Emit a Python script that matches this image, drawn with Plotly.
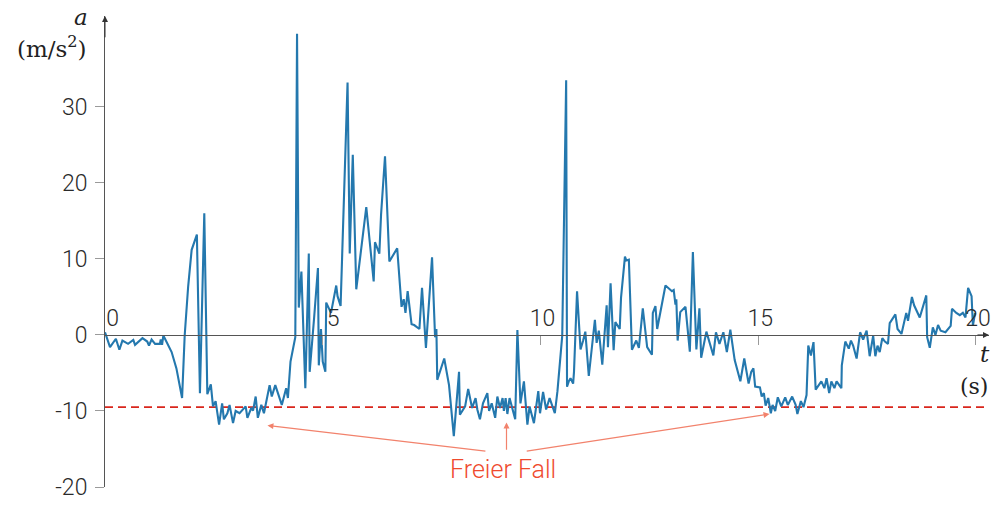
import plotly.graph_objects as go

# ---- data ----
time_s = [
    0, 0.115, 0.25, 0.33, 0.4, 0.53, 0.65, 0.69, 0.86, 0.97, 1.01, 1.07, 1.15, 1.26, 1.28, 1.31, 1.34, 1.41,
    1.53, 1.64, 1.77, 1.83, 1.91, 1.99, 2.06, 2.11, 2.18, 2.28, 2.35, 2.43, 2.48, 2.54, 2.62, 2.69, 2.73,
    2.81, 2.86, 2.94, 3.0, 3.09, 3.23, 3.27, 3.36, 3.4, 3.46, 3.51,
    3.59, 3.65, 3.78, 3.83, 3.91, 4.06, 4.16, 4.2, 4.26, 4.37, 4.41, 4.45, 4.51, 4.6, 4.68, 4.7, 4.8, 4.89,
    4.91, 4.96, 5.0, 5.06, 5.08, 5.19, 5.31, 5.34, 5.41, 5.48, 5.57, 5.62, 5.69, 5.77, 6.0, 6.17, 6.2, 6.3,
    6.34, 6.43, 6.53, 6.71, 6.81, 6.86, 6.9, 6.95, 7.04, 7.1,
    7.22, 7.28, 7.37, 7.51, 7.58, 7.61, 7.63, 7.79, 7.9, 8.01, 8.13, 8.15, 8.27, 8.34, 8.43, 8.51, 8.55,
    8.61, 8.68, 8.78, 8.82, 8.88, 8.96, 9.01, 9.07, 9.13, 9.16, 9.2, 9.24, 9.29, 9.35, 9.42, 9.47, 9.54,
    9.62, 9.7, 9.75, 9.85, 9.95, 9.99, 10.06, 10.13, 10.21, 10.27, 10.33, 10.39, 10.5, 10.59, 10.61, 10.65,
    10.69, 10.75, 10.77, 10.84, 10.92, 10.98, 11.03, 11.11, 11.25, 11.29, 11.34, 11.42, 11.52, 11.55, 11.61,
    11.68, 11.72, 11.82, 11.85, 11.94, 11.97, 12.03, 12.1, 12.2, 12.26, 12.35, 12.45, 12.56, 12.58, 12.64,
    12.68, 12.87, 13.02, 13.06, 13.1, 13.12, 13.15, 13.21, 13.33, 13.43, 13.5, 13.58, 13.65, 13.69, 13.81,
    13.97, 14.03, 14.11,
    14.2, 14.28, 14.36, 14.46, 14.59, 14.68, 14.78, 14.84, 14.89, 14.93, 15.04, 15.08, 15.13, 15.17, 15.23,
    15.29, 15.33, 15.39, 15.45, 15.53, 15.62, 15.68, 15.78, 15.86, 15.9, 15.98, 16.04, 16.11, 16.15, 16.21,
    16.27, 16.32, 16.38, 16.45, 16.52, 16.57, 16.63, 16.68, 16.75, 16.8, 16.91, 16.92, 17.0, 17.08, 17.13,
    17.18, 17.26, 17.34,
    17.41, 17.49, 17.56, 17.64, 17.69, 17.74, 17.79, 17.85, 17.91, 17.98, 18.02, 18.15, 18.2, 18.29, 18.4,
    18.44, 18.53, 18.58, 18.71, 18.86, 18.88, 18.94, 19.01, 19.07, 19.13, 19.19, 19.3, 19.42, 19.45, 19.55,
    19.63, 19.7, 19.76, 19.82, 19.9, 19.93, 19.98,
]
accel = [
    0.35, -1.6, -0.5, -1.95, -0.74, -1.17, -0.65, -1.3, -0.43, -0.87, -1.39, -0.6, -1.17, -1.17, -0.6, -1.3, -0.08, -0.95,
    -2.25, -4.4, -8.3, -0.08, 6.4, 11.2, 12.5, 13.2, -7.66, 16.0, -7.8, -6.5, -9.4, -8.7, -11.8, -9.0, -11.1,
    -10.3, -9.2, -11.6, -10.0, -10.3, -9.4, -10.9, -9.6, -9.96, -8.1, -10.9,
    -9.2, -10.3, -6.6, -8.1, -6.6, -9.2, -7.0, -8.3, -3.5, -0.3, 39.6, 3.6, 8.35, -7.0, 10.7, -4.85, 2.1, 8.8,
    -4.0, 0.78, -3.5, -4.85, 4.25, 2.9, 6.5, 5.1, 3.8, 16.8, 33.2, 10.7, 23.7, 6.0, 16.8, 7.05, 12.2, 10.7,
    15.9, 23.5, 9.65, 11.4, 3.7, 4.7, 2.9, 5.75, 1.4, 1.3,
    0.78, 6.2, -1.7, 10.2, -0.3, 0.78, -5.9, -3.1, -6.6, -13.3, -4.85, -10.5, -9.4, -7.1, -9.6, -8.3, -9.8,
    -11.1, -9.0, -7.66, -10.0, -9.0, -10.9, -8.1, -9.6, -8.3, -10.0, -8.3, -10.4, -8.3, -9.6, -11.1, 0.65, -9.0,
    -6.1, -11.8, -9.4, -11.6, -7.4, -10.3, -7.5, -9.8, -8.3, -9.2, -10.3, -7.4, -0.1, 33.5, -6.8, -6.1,
    -5.7, -6.4, -4.85, 5.75, -1.9, -0.74, 0.43, -5.4, 2.0, -1.04, 0.56, -3.9, 3.9, -1.6, 6.8,
    -2.0, 1.7, 0.78, 4.9, 10.3, 9.8, 9.9, -1.95, -0.74, -1.7, 3.5, -1.6, -2.6, 2.9, 3.8,
    0.78, 6.5, 5.75, 5.9, 4.0, 4.7, -0.74, 3.0, 3.7, -2.2, 10.9, -1.9, 3.5, -3.0, 0.43,
    -2.7, 0.35, -1.17,
    0.35, -2.25, 0.69, -3.3, -6.1, -3.1, -6.4, -4.85, -4.4, -6.8, -6.9, -8.1, -7.66, -9.3, -8.3,
    -10.3, -9.2, -10.0, -8.2, -9.4, -8.2, -9.2, -8.1, -9.2, -10.4, -8.7, -9.5, -7.9, -1.4, -2.7,
    -0.95, -7.2, -6.6, -6.1, -7.0, -5.7, -7.66, -6.1, -7.0, -6.1, -7.0, -4.0, -0.87, -1.8, -0.74,
    -1.4, -3.1, 0.35,
    -0.6, 0.56, -2.8, -0.08, -2.8, -1.4, -2.25, -0.43, -0.87, -1.17, 1.56, 2.7, 0.78, 0.13, 2.9,
    1.85, 5.0, 3.9, 2.3, 5.2, -0.3, -1.7, 1.0, 0.0, 1.3, 0.56, 0.35, 1.2, 3.45, 2.9,
    2.6, 2.9, 2.3, 6.2, 5.1, 1.2, 2.9,
]
free_fall_level = -9.5
x_tick_vals = [0, 5, 10, 15, 20]
x_tick_text = ["\u00a0\u00a00", "\u00a0\u00a0\u00a05", "10", "15", "20"]
y_tick_vals = [-20, -10, 0, 10, 20, 30]
y_tick_text = ["-20", "-10", "0", "10", "20", "30"]
x_range = [0, 20.3]
y_range = [-20, 41.95]

AX = "#555555"
TICK = "#9a9a9a"
RED = "#ef4a2e"
ARROW = "#f2826c"
SERIF = "DejaVu Serif"
SANS = "Roboto"
TXT = "#2a2a2a"

fig = go.Figure()
fig.add_trace(go.Scatter(
    x=[x_range[0], x_range[1]], y=[free_fall_level, free_fall_level], mode="lines",
    line=dict(color="#d9261c", width=1.6, dash="8px,5px"), hoverinfo="skip", showlegend=False,
))
fig.add_trace(go.Scatter(
    x=time_s, y=accel, mode="lines",
    line=dict(color="#2478ae", width=2.1), showlegend=False,
))

x_pos = (0 - y_range[0]) / (y_range[1] - y_range[0])

fig.update_layout(
    width=1000, height=510,
    margin=dict(l=105, r=9, t=15.5, b=17.5),
    plot_bgcolor="white", paper_bgcolor="white",
    xaxis=dict(
        range=x_range, showgrid=False, zeroline=False,
        showline=True, linecolor=AX, linewidth=1,
        side="top", anchor="free", position=x_pos,
        ticks="inside", ticklen=9, tickcolor=TICK, tickwidth=1,
        tickvals=x_tick_vals, ticktext=x_tick_text, ticklabelshift=2,
        tickfont=dict(family=SANS, size=23, color=TXT, weight=300),
    ),
    yaxis=dict(
        range=y_range, showgrid=False, zeroline=False,
        showline=True, linecolor=AX, linewidth=1,
        ticks="outside", ticklen=9, tickcolor=TICK, tickwidth=1,
        tickvals=y_tick_vals, ticktext=y_tick_text, ticklabelstandoff=3,
        tickfont=dict(family=SANS, size=23, color=TXT, weight=300),
    ),
)

annotations = [
    # axis arrows
    dict(x=x_range[1], y=0, ax=x_range[1] - 0.3, ay=0, xref="x", yref="y", axref="x", ayref="y",
         text="", showarrow=True, arrowhead=2, arrowsize=1.2, arrowwidth=1, arrowcolor="#333333"),
    dict(x=0, y=y_range[1], ax=0, ay=y_range[1] - 3, xref="x", yref="y", axref="x", ayref="y",
         text="", showarrow=True, arrowhead=2, arrowsize=1.2, arrowwidth=1, arrowcolor="#333333"),
    # axis titles
    dict(x=-0.0271, y=0.998, xref="paper", yref="paper", xanchor="center", yanchor="middle",
         text="<i>a</i>", showarrow=False, font=dict(family=SERIF, size=23, color="#222222")),
    dict(x=-0.0598, y=0.935, xref="paper", yref="paper", xanchor="center", yanchor="middle",
         text="(m/s<sup>2</sup>)", showarrow=False, font=dict(family=SERIF, size=23, color="#222222")),
    dict(x=20.21, y=-2.5, xref="x", yref="y", text="<i>t</i>", showarrow=False,
         font=dict(family=SERIF, size=23, color="#222222")),
    dict(x=19.96, y=-6.75, xref="x", yref="y", text="(s)", showarrow=False,
         font=dict(family=SERIF, size=22, color="#222222")),
    # free fall label
    dict(x=9.13, y=-17.7, xref="x", yref="y", text="Freier Fall", showarrow=False,
         font=dict(family=SANS, size=25, color=RED, weight=300)),
    dict(x=3.73, y=-11.9, ax=8.77, ay=-15.3, xref="x", yref="y", axref="x", ayref="y",
         text="", showarrow=True, arrowhead=2, arrowsize=1, arrowwidth=1.2, arrowcolor=ARROW),
    dict(x=9.22, y=-11.5, ax=9.22, ay=-15.3, xref="x", yref="y", axref="x", ayref="y",
         text="", showarrow=True, arrowhead=2, arrowsize=1, arrowwidth=1.2, arrowcolor=ARROW),
    dict(x=15.26, y=-10.4, ax=9.65, ay=-15.3, xref="x", yref="y", axref="x", ayref="y",
         text="", showarrow=True, arrowhead=2, arrowsize=1, arrowwidth=1.2, arrowcolor=ARROW),
]
fig.update_layout(annotations=annotations)

# remove the browser's default 8px body margin so the figure fills the window
fig.write_html("out.html", config={"displayModeBar": False},
               post_script="document.body.style.margin='0px';")
